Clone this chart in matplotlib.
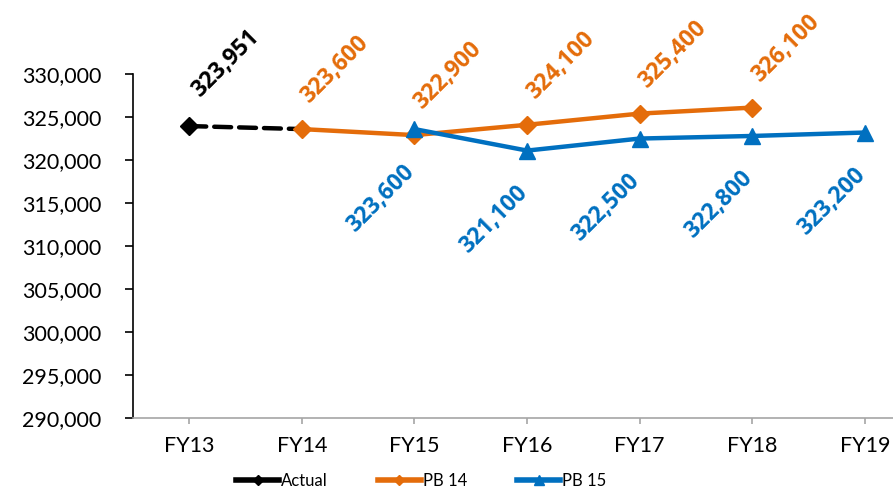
import numpy as np
import matplotlib
matplotlib.use("Agg")
import matplotlib.pyplot as plt

# 數據
years = ["FY13", "FY14", "FY15", "FY16", "FY17", "FY18", "FY19"]
actual = [323951, 323600, np.nan, np.nan, np.nan, np.nan, np.nan]
pb14 = [np.nan, 323600, 322900, 324100, 325400, 326100, np.nan]
pb15 = [np.nan, np.nan, 323600, 321100, 322500, 322800, 323200]
y_ticks = list(range(290000, 330001, 5000))

c_black = "#000000"
c_orange = "#E46C0A"
c_blue = "#0070C0"

plt.rcParams['font.family'] = ['Lato', 'DejaVu Sans']

fig = plt.figure(figsize=(8.93, 4.93), dpi=100)
ax = fig.add_axes([0.149, 0.152, 0.8824, 0.6978])
x = np.arange(len(years))

ax.plot(x, actual, color=c_black, lw=3.2, ls=(0, (3.8, 1.8)), dash_capstyle='round',
        marker='D', markersize=9, markevery=[0], label='Actual')
ax.plot(x, pb14, color=c_orange, lw=3.2, marker='D', markersize=9, label='PB 14')
ax.plot(x, pb15, color=c_blue, lw=3.2, marker='^', markersize=12, label='PB 15')

# 資料標籤
def add_labels(vals, color, dx, dy, va):
    for i, v in enumerate(vals):
        if np.isnan(v):
            continue
        ax.annotate(f"{v:,.0f}", (x[i], v), xytext=(dx, dy), textcoords='offset points',
                    rotation=45, ha='center', va=va, color=color,
                    fontsize=16.5, fontweight='bold', family=['Open Sans', 'DejaVu Sans'])

add_labels(actual[:1], c_black, 26, 17, 'bottom')
add_labels(pb14, c_orange, 24, 15, 'bottom')
add_labels(pb15, c_blue, -24, -22, 'top')

ax.set_xlim(-0.5, 6.5)
ax.set_ylim(290000, 330000)
ax.set_xticks(x)
ax.set_xticklabels(years)
ax.set_yticks(y_ticks)
ax.set_yticklabels([f"{t:,}" for t in y_ticks])

ax.spines['top'].set_visible(False)
ax.spines['right'].set_visible(False)
ax.spines['left'].set_color('black')
ax.spines['left'].set_linewidth(1.2)
ax.spines['bottom'].set_color('#A6A6A6')
ax.spines['bottom'].set_linewidth(1.2)
ax.tick_params(axis='y', length=6, width=1.2, color='black', pad=17, labelsize=15.5)
ax.tick_params(axis='x', length=4, width=1.2, color='#A6A6A6', pad=9, labelsize=15.5)

leg = fig.legend(loc='center', bbox_to_anchor=(421 / 893, 1 - 481 / 493), ncol=3, frameon=False,
                 fontsize=12, handlelength=2.6, columnspacing=3.0, handletextpad=0.1,
                 markerscale=0.6)
for h in leg.get_lines():
    h.set_linewidth(4)
    h.set_linestyle('-')

fig.savefig("out.png", dpi=100)
